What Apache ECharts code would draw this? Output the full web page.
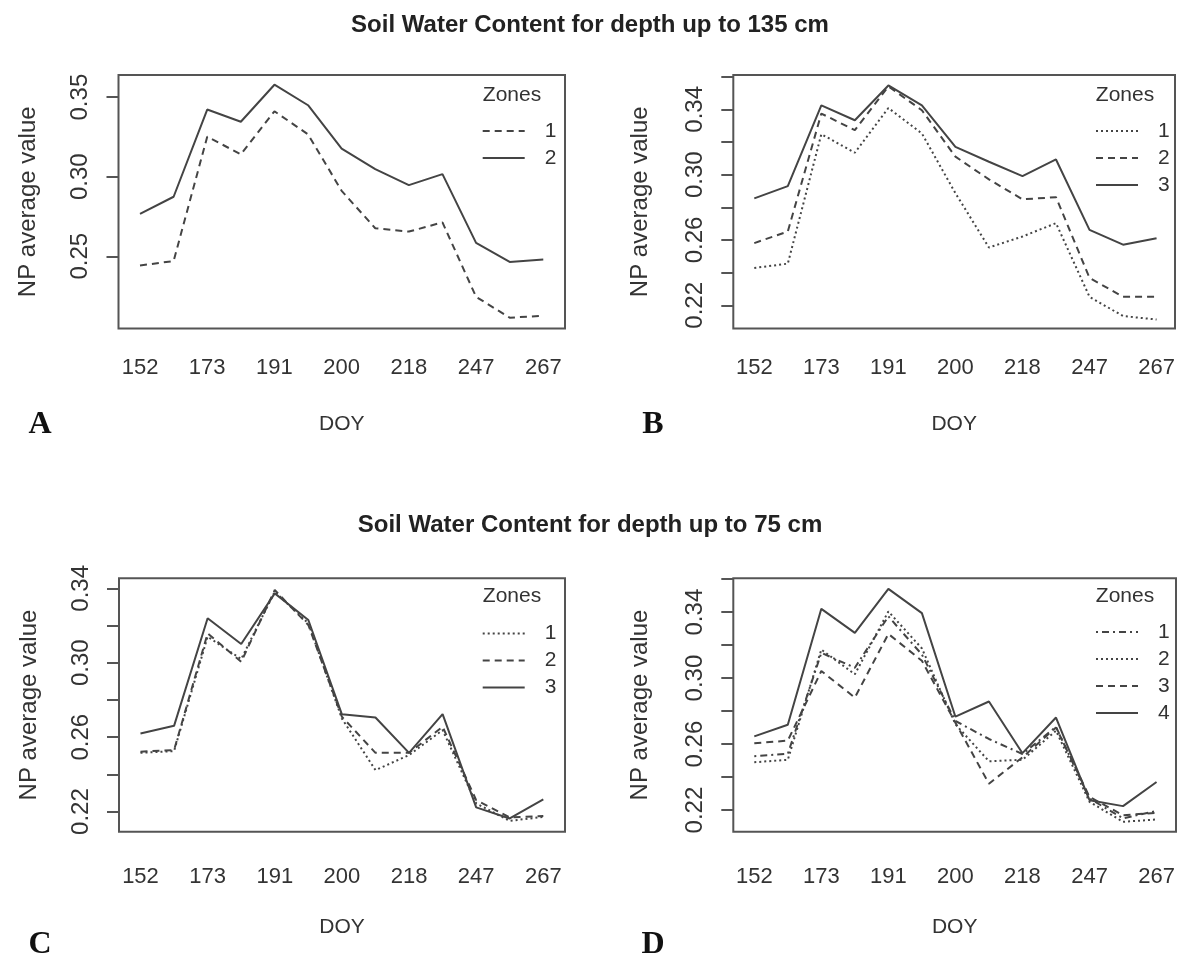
<!DOCTYPE html>
<html>
<head>
<meta charset="utf-8">
<title>Soil Water Content</title>
<script src="https://cdn.jsdelivr.net/npm/echarts@6/dist/echarts.min.js"></script>
<style>
  html, body { margin: 0; padding: 0; background: #ffffff; }
  #chart { width: 1180px; height: 964px; }
</style>
</head>
<body>
<div id="chart"></div>
<script>
// Field visits (1..13); every other visit carries a day-of-year label
const visits = [1, 2, 3, 4, 5, 6, 7, 8, 9, 10, 11, 12, 13];
const doyTicks = ['152', '173', '191', '200', '218', '247', '267'];

// Depth up to 135 cm, two management zones (panel A)
const d135z2Zone1 = [0.2442, 0.2470, 0.3251, 0.3141, 0.3411, 0.3266, 0.2911, 0.2676, 0.2655, 0.2713, 0.2245, 0.2114, 0.2126];
const d135z2Zone2 = [0.2766, 0.2874, 0.3422, 0.3345, 0.3578, 0.3449, 0.3176, 0.3047, 0.2947, 0.3016, 0.2584, 0.2464, 0.2480];

// Depth up to 135 cm, three management zones (panel B)
const d135z3Zone1 = [0.2429, 0.2455, 0.3248, 0.3134, 0.3408, 0.3252, 0.2886, 0.2554, 0.2621, 0.2703, 0.2252, 0.2134, 0.2113];
const d135z3Zone2 = [0.2581, 0.2652, 0.3374, 0.3272, 0.3540, 0.3394, 0.3110, 0.2971, 0.2849, 0.2862, 0.2368, 0.2252, 0.2252];
const d135z3Zone3 = [0.2855, 0.2930, 0.3424, 0.3333, 0.3546, 0.3424, 0.3170, 0.3079, 0.2991, 0.3093, 0.2662, 0.2571, 0.2611];

// Depth up to 75 cm, three management zones (panel C)
const d75z3Zone1 = [0.2516, 0.2525, 0.3140, 0.3020, 0.3382, 0.3212, 0.2700, 0.2423, 0.2504, 0.2638, 0.2244, 0.2150, 0.2172];
const d75z3Zone2 = [0.2522, 0.2531, 0.3158, 0.3005, 0.3391, 0.3203, 0.2710, 0.2516, 0.2516, 0.2656, 0.2262, 0.2169, 0.2176];
const d75z3Zone3 = [0.2620, 0.2661, 0.3239, 0.3101, 0.3373, 0.3230, 0.2723, 0.2706, 0.2516, 0.2724, 0.2223, 0.2163, 0.2266];

// Depth up to 75 cm, four management zones (panel D)
const d75z4Zone1 = [0.2527, 0.2541, 0.3153, 0.3063, 0.3374, 0.3143, 0.2740, 0.2631, 0.2540, 0.2705, 0.2270, 0.2150, 0.2195];
const d75z4Zone2 = [0.2490, 0.2505, 0.3173, 0.3023, 0.3404, 0.3180, 0.2720, 0.2496, 0.2505, 0.2681, 0.2250, 0.2129, 0.2143];
const d75z4Zone3 = [0.2605, 0.2621, 0.3043, 0.2882, 0.3268, 0.3105, 0.2730, 0.2360, 0.2520, 0.2701, 0.2280, 0.2169, 0.2183];
const d75z4Zone4 = [0.2647, 0.2717, 0.3420, 0.3274, 0.3541, 0.3394, 0.2766, 0.2858, 0.2545, 0.2761, 0.2260, 0.2224, 0.2370];

// Y-axis tick positions and the subset that gets a label
const ticksA = [0.25, 0.30, 0.35];
const ticksB = [0.22, 0.24, 0.26, 0.28, 0.30, 0.32, 0.34, 0.36];
const ticksC = [0.22, 0.24, 0.26, 0.28, 0.30, 0.32, 0.34];
const ticksD = [0.22, 0.24, 0.26, 0.28, 0.30, 0.32, 0.34, 0.36];
const labelsA = [0.25, 0.30, 0.35];
const labelsBCD = [0.22, 0.26, 0.30, 0.34];

const titleTop = 'Soil Water Content for depth up to 135 cm';
const titleBottom = 'Soil Water Content for depth up to 75 cm';

// ---- styling ----
const FONT = '"Liberation Sans", Arial, sans-serif';
const INK = '#333333';
const LINE_COLOR = '#444444';
const BOX_COLOR = '#555555';
const DASH = {
  solid: 'solid',
  dashed: [7, 5],
  dotted: [2, 3],
  dotdash: [2, 4, 7, 4]
};

const panels = [
  {
    key: 'A', box: { left: 118.5, top: 75, right: 565, bottom: 328.5 },
    xMin: 0.36, xMax: 13.646, yMin: 0.2046, yMax: 0.3639,
    ticks: ticksA, labels: labelsA, tickMargin: 28, yNameGap: 78,
    series: [
      { zone: '1', data: d135z2Zone1, dash: 'dashed' },
      { zone: '2', data: d135z2Zone2, dash: 'solid' }
    ],
    legendAt: [481.7, 120.5], zonesAt: [512, 95]
  },
  {
    key: 'B', box: { left: 733.3, top: 75, right: 1175, bottom: 328.5 },
    xMin: 0.374, xMax: 13.55, yMin: 0.2058, yMax: 0.361,
    ticks: ticksB, labels: labelsBCD, tickMargin: 28, yNameGap: 81,
    series: [
      { zone: '1', data: d135z3Zone1, dash: 'dotted' },
      { zone: '2', data: d135z3Zone2, dash: 'dashed' },
      { zone: '3', data: d135z3Zone3, dash: 'solid' }
    ],
    legendAt: [1095, 120.5], zonesAt: [1125, 95]
  },
  {
    key: 'C', box: { left: 119, top: 578.3, right: 565, bottom: 831.7 },
    xMin: 0.36, xMax: 13.646, yMin: 0.2092, yMax: 0.3454,
    ticks: ticksC, labels: labelsBCD, tickMargin: 34, yNameGap: 78,
    series: [
      { zone: '1', data: d75z3Zone1, dash: 'dotted' },
      { zone: '2', data: d75z3Zone2, dash: 'dashed' },
      { zone: '3', data: d75z3Zone3, dash: 'solid' }
    ],
    legendAt: [481.7, 623], zonesAt: [512, 596.7]
  },
  {
    key: 'D', box: { left: 733.3, top: 578.3, right: 1176, bottom: 831.7 },
    xMin: 0.374, xMax: 13.58, yMin: 0.2069, yMax: 0.3605,
    ticks: ticksD, labels: labelsBCD, tickMargin: 34, yNameGap: 81,
    series: [
      { zone: '1', data: d75z4Zone1, dash: 'dotdash' },
      { zone: '2', data: d75z4Zone2, dash: 'dotted' },
      { zone: '3', data: d75z4Zone3, dash: 'dashed' },
      { zone: '4', data: d75z4Zone4, dash: 'solid' }
    ],
    legendAt: [1095, 621.5], zonesAt: [1125, 596.7]
  }
];

const labeledVisits = visits.filter((v, i) => i % 2 === 0);

const grids = [], xAxes = [], yAxes = [], series = [], legends = [], texts = [];

panels.forEach((p, idx) => {
  grids.push({
    left: p.box.left, top: p.box.top,
    width: p.box.right - p.box.left, height: p.box.bottom - p.box.top,
    show: true, borderColor: BOX_COLOR, borderWidth: 2, backgroundColor: 'transparent'
  });

  xAxes.push({
    gridIndex: idx, type: 'value', min: p.xMin, max: p.xMax,
    axisLine: { show: false }, axisTick: { show: false }, splitLine: { show: false },
    axisLabel: {
      customValues: labeledVisits,
      formatter: v => doyTicks[(v - 1) / 2],
      margin: p.tickMargin, fontSize: 22, fontFamily: FONT, color: INK
    },
    name: 'DOY', nameLocation: 'middle', nameGap: 85,
    nameTextStyle: { fontSize: 21, fontFamily: FONT, color: INK }
  });

  yAxes.push({
    gridIndex: idx, type: 'value', min: p.yMin, max: p.yMax,
    axisLine: { show: false }, splitLine: { show: false },
    axisTick: {
      show: true, customValues: p.ticks, length: 12, inside: false,
      lineStyle: { color: BOX_COLOR, width: 2 }
    },
    axisLabel: {
      customValues: p.labels, rotate: 90,
      formatter: v => v.toFixed(2),
      margin: 26, fontSize: 24, fontFamily: FONT, color: INK
    },
    name: 'NP average value', nameLocation: 'middle', nameGap: p.yNameGap,
    nameTextStyle: { fontSize: 24, fontFamily: FONT, color: INK }
  });

  const names = [];
  p.series.forEach(s => {
    const name = p.key + s.zone;
    names.push(name);
    series.push({
      name, type: 'line', xAxisIndex: idx, yAxisIndex: idx,
      symbol: 'none', silent: true, animation: false,
      itemStyle: { color: LINE_COLOR },
      lineStyle: { color: LINE_COLOR, width: 2, type: DASH[s.dash] },
      data: visits.map((v, i) => [v, s.data[i]])
    });
  });

  legends.push({
    data: names, orient: 'vertical', left: p.legendAt[0], top: p.legendAt[1],
    padding: 0, itemWidth: 42, itemHeight: 14, itemGap: 6, selectedMode: false,
    itemStyle: { opacity: 0, borderWidth: 0 },
    formatter: n => n.slice(1),
    textStyle: { fontSize: 21, fontFamily: FONT, color: INK, padding: [0, 0, 0, 15] }
  });

  texts.push({
    type: 'text', x: p.zonesAt[0], y: p.zonesAt[1],
    style: { text: 'Zones', fontSize: 21, fontFamily: FONT, fill: INK, align: 'center', verticalAlign: 'middle' }
  });
});

// Figure titles and panel letters
texts.push(
  { type: 'text', x: 590, y: 25, style: { text: titleTop, fontSize: 24, fontWeight: 'bold', fontFamily: FONT, fill: '#222', align: 'center', verticalAlign: 'middle' } },
  { type: 'text', x: 590, y: 525, style: { text: titleBottom, fontSize: 24, fontWeight: 'bold', fontFamily: FONT, fill: '#222', align: 'center', verticalAlign: 'middle' } }
);
[['A', 40, 425], ['B', 653, 425], ['C', 40, 945], ['D', 653, 945]].forEach(([t, x, y]) => {
  texts.push({
    type: 'text', x, y,
    style: { text: t, fontSize: 32, fontWeight: 'bold', fontFamily: '"Liberation Serif", "Times New Roman", serif', fill: '#111', align: 'center', verticalAlign: 'middle' }
  });
});

const chart = echarts.init(document.getElementById('chart'), null, { renderer: 'canvas' });
chart.setOption({
  backgroundColor: '#ffffff',
  animation: false,
  grid: grids,
  xAxis: xAxes,
  yAxis: yAxes,
  legend: legends,
  series,
  graphic: texts
});
</script>
</body>
</html>
